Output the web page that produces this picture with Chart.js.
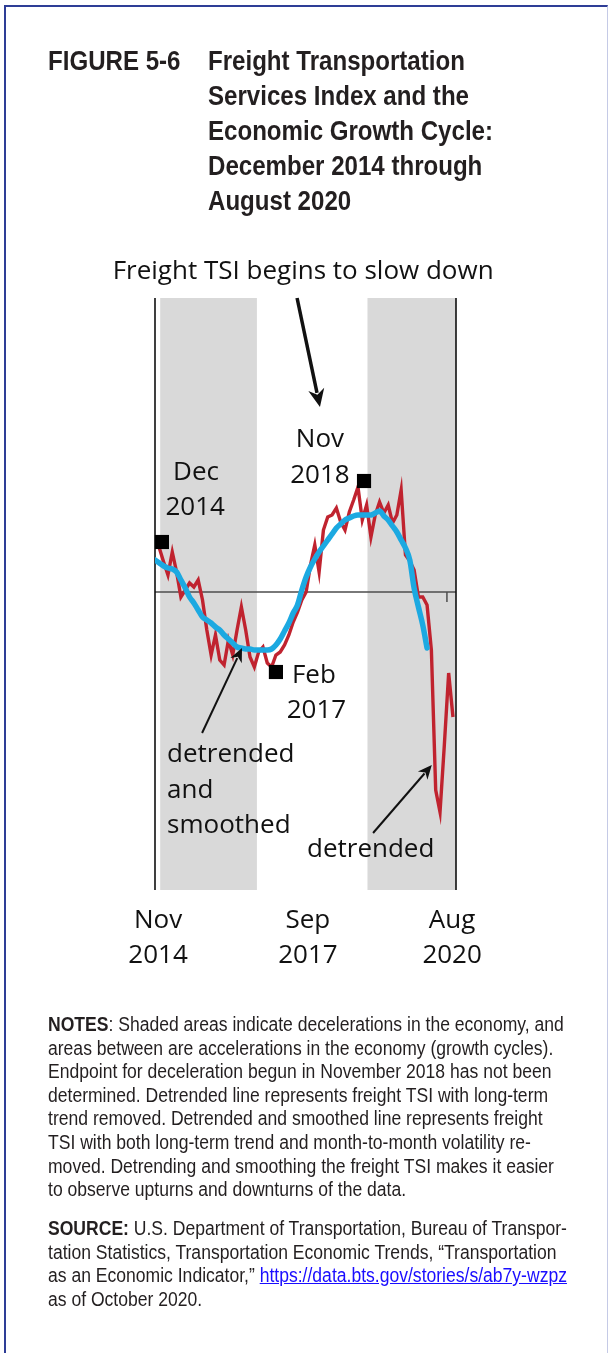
<!DOCTYPE html>
<html><head><meta charset="utf-8">
<script src="https://cdn.jsdelivr.net/npm/chart.js@4.4.1/dist/chart.umd.min.js"></script>
<style>
html,body{margin:0;padding:0;background:#fff;}
body{width:609px;height:1353px;position:relative;overflow:hidden;}
#frame{position:absolute;left:4px;top:5px;width:604px;height:1400px;border-left:2px solid #2e3d96;border-top:2px solid #2e3d96;border-right:1px solid #c5cae6;box-sizing:border-box;}
#chart{position:absolute;left:0;top:0;}
.t{position:absolute;font-family:"Liberation Sans",Arial,sans-serif;color:#231f20;white-space:nowrap;transform-origin:0 0;}
#fig{left:48px;top:43px;font-size:28px;line-height:35px;font-weight:bold;transform:scaleX(0.86);}
#ttl{left:208px;top:43px;font-size:28px;line-height:35px;font-weight:bold;transform:scaleX(0.86);}
#notes{left:48px;top:1013px;font-size:19.5px;line-height:23.6px;transform:scaleX(0.9);}
#source{left:48px;top:1217px;font-size:19.5px;line-height:23.6px;transform:scaleX(0.9);}
a{color:#1a0dff;}
</style></head>
<body>
<div id="frame"></div>
<canvas id="chart" width="609" height="1353"></canvas>
<div class="t" id="fig">FIGURE 5-6</div>
<div class="t" id="ttl">Freight Transportation<br>Services Index and the<br>Economic Growth Cycle:<br>December 2014 through<br>August 2020</div>
<div class="t" id="notes"><b>NOTES</b>: Shaded areas indicate decelerations in the economy, and<br>areas between are accelerations in the economy (growth cycles).<br>Endpoint for deceleration begun in November 2018 has not been<br>determined. Detrended line represents freight TSI with long-term<br>trend removed. Detrended and smoothed line represents freight<br>TSI with both long-term trend and month-to-month volatility re-<br>moved. Detrending and smoothing the freight TSI makes it easier<br>to observe upturns and downturns of the data.</div>
<div class="t" id="source"><b>SOURCE:</b> U.S. Department of Transportation, Bureau of Transpor-<br>tation Statistics, Transportation Economic Trends, “Transportation<br>as an Economic Indicator,” <a href="#">https://data.bts.gov/stories/s/ab7y-wzpz</a><br>as of October 2020.</div>
<script>
// Month index: 0 = Nov 2014 ... 69 = Aug 2020
const detrendedStart = 1; // Dec 2014
const detrended = [4.4,3.0,1.7,4.0,2.0,-0.5,0.2,0.9,0.5,1.2,-0.8,-3.8,-6.3,-4.3,-6.8,-7.3,-4.8,-6.3,-3.8,-1.5,
  -3.8,-6.5,-7.5,-6.0,-5.5,-7.1,-7.5,-6.3,-6.0,-5.3,-4.3,-3.0,-2.0,-0.8,0.0,2.7,4.7,2.0,6.2,7.5,
  7.7,8.4,7.0,6.2,8.0,9.2,10.5,7.2,8.7,5.5,7.7,9.0,7.9,8.7,6.9,7.7,10.2,3.7,3.1,2.2,
  -0.5,-0.5,-1.3,-5.8,-19.8,-22.0,-15.3,-8.1,-12.5];
const smoothedStart = 0; // Nov 2014
const smoothed = [3.2,2.9,2.6,2.4,2.3,2.0,1.2,0.4,-0.5,-1.1,-1.8,-2.5,-2.8,-3.1,-3.5,-3.8,-4.3,-4.7,-5.1,-5.5,
  -5.6,-5.7,-5.7,-5.8,-5.8,-5.8,-5.8,-5.7,-5.3,-4.7,-3.9,-3.1,-2.1,-1.3,0.2,1.5,2.5,3.3,4.0,4.6,
  5.2,5.8,6.4,6.8,7.2,7.4,7.6,7.7,7.7,7.7,7.7,7.9,8.1,7.6,7.2,6.6,6.0,5.2,4.4,3.2,
  0.4,-1.5,-3.3,-5.6];
const turningPointLabels = ["Dec 2014","Feb 2017","Nov 2018"];
const turningPointX = [1.6, 28.0, 48.4];
const turningPointY = [5.0, -8.0, 11.1];
const shadeStarts = [1.2, 49.2];
const shadeEnds = [23.6, 69.7];
const tickLabels = [["Nov","2014"],["Sep","2017"],["Aug","2020"]];
const tickPositions = [0.7, 35.4, 68.8];

const xMin = 0, xMax = 69.7, yMin = -29.8, yMax = 29.4;

const redPts = detrended.map((v,i)=>({x:detrendedStart+i, y:v}));
const bluePts = smoothed.map((v,i)=>({x:smoothedStart+i, y:v}));
const markerPts = turningPointX.map((x,i)=>({x:x, y:turningPointY[i]}));

const annoFont = '"Open Sans","Noto Sans",sans-serif';
// annotations in data coordinates
const texts = [
  {t:"Freight TSI begins to slow down", x:34.3, y:32.0, align:"center"},
  {t:"Dec", x:9.5, y:11.9, align:"center"},
  {t:"2014", x:9.3, y:8.4, align:"center"},
  {t:"Nov", x:38.2, y:15.2, align:"center"},
  {t:"2018", x:38.2, y:11.6, align:"center"},
  {t:"Feb", x:31.7, y:-8.4, align:"left"},
  {t:"2017", x:30.5, y:-11.9, align:"left"},
  {t:"detrended", x:2.8, y:-16.3, align:"left"},
  {t:"and", x:2.8, y:-19.9, align:"left"},
  {t:"smoothed", x:2.8, y:-23.4, align:"left"},
  {t:"detrended", x:35.2, y:-25.8, align:"left"}
];
const arrows = [
  {x1:32.9, y1:29.4, x2:38.2, y2:18.5, w:3.5, head:18},
  {x1:10.9, y1:-14.1, x2:20.15, y2:-5.6, w:2, head:14},
  {x1:50.5, y1:-24.1, x2:64.1, y2:-17.3, w:2, head:14}
];

const backdrop = {
  id:'backdrop',
  beforeDatasetsDraw(chart){
    const {ctx, chartArea:a, scales:{x,y}} = chart;
    ctx.save();
    ctx.fillStyle = '#d9d9d9';
    shadeStarts.forEach((s,i)=>{
      const x0 = x.getPixelForValue(s), x1 = x.getPixelForValue(shadeEnds[i]);
      ctx.fillRect(x0, a.top, x1-x0, a.bottom-a.top);
    });
    const y0 = y.getPixelForValue(0);
    ctx.strokeStyle = '#4d4d4d'; ctx.lineWidth = 1.5;
    ctx.beginPath(); ctx.moveTo(a.left, y0); ctx.lineTo(a.right, y0); ctx.stroke();
    const tx = x.getPixelForValue(67.6);
    ctx.beginPath(); ctx.moveTo(tx, y0); ctx.lineTo(tx, y0+10); ctx.stroke();
    ctx.strokeStyle = '#111'; ctx.lineWidth = 1.6;
    ctx.beginPath(); ctx.moveTo(a.left, a.top); ctx.lineTo(a.left, a.bottom);
    ctx.moveTo(a.right, a.top); ctx.lineTo(a.right, a.bottom); ctx.stroke();
    ctx.restore();
  },
  afterDatasetsDraw(chart){
    const {ctx, scales:{x,y}} = chart;
    ctx.save();
    ctx.fillStyle = '#111';
    ctx.font = '26px ' + annoFont;
    ctx.textBaseline = 'middle';
    texts.forEach(o=>{
      ctx.textAlign = o.align;
      ctx.fillText(o.t, x.getPixelForValue(o.x), y.getPixelForValue(o.y));
    });
    ctx.textAlign = 'center';
    tickLabels.forEach((lab,i)=>{
      const px = x.getPixelForValue(tickPositions[i]);
      ctx.fillText(lab[0], px, y.getPixelForValue(-32.9));
      ctx.fillText(lab[1], px, y.getPixelForValue(-36.4));
    });
    arrows.forEach(a=>{
      const X1=x.getPixelForValue(a.x1), Y1=y.getPixelForValue(a.y1);
      const X2=x.getPixelForValue(a.x2), Y2=y.getPixelForValue(a.y2);
      const ang = Math.atan2(Y2-Y1, X2-X1);
      const bx = X2 - a.head*0.8*Math.cos(ang), by = Y2 - a.head*0.8*Math.sin(ang);
      ctx.strokeStyle='#111'; ctx.lineWidth=a.w;
      ctx.beginPath(); ctx.moveTo(X1,Y1); ctx.lineTo(bx,by); ctx.stroke();
      const hw = a.head*0.45;
      ctx.beginPath();
      ctx.moveTo(X2,Y2);
      ctx.lineTo(X2 - a.head*Math.cos(ang) + hw*Math.sin(ang), Y2 - a.head*Math.sin(ang) - hw*Math.cos(ang));
      ctx.lineTo(X2 - a.head*0.7*Math.cos(ang), Y2 - a.head*0.7*Math.sin(ang));
      ctx.lineTo(X2 - a.head*Math.cos(ang) - hw*Math.sin(ang), Y2 - a.head*Math.sin(ang) + hw*Math.cos(ang));
      ctx.closePath(); ctx.fill();
    });
    ctx.restore();
  }
};

new Chart(document.getElementById('chart'), {
  type:'line',
  data:{datasets:[
    {label:'Turning points', data:markerPts, showLine:false, pointStyle:'rect', pointRadius:10, pointBackgroundColor:'#000', pointBorderWidth:0, clip:false},
    {label:'Detrended and smoothed', data:bluePts, borderColor:'#1ca9e1', borderWidth:5.5, pointRadius:0, cubicInterpolationMode:'monotone', borderCapStyle:'round', borderJoinStyle:'round', fill:false},
    {label:'Detrended', data:redPts, borderColor:'#c0232f', borderWidth:3.4, pointRadius:0, tension:0, borderJoinStyle:'miter', fill:false}
  ]},
  options:{
    responsive:false, animation:false, devicePixelRatio:1,
    layout:{padding:{left:155, right:153, top:298, bottom:463}},
    plugins:{legend:{display:false}, tooltip:{enabled:false}, title:{display:false}},
    scales:{
      x:{type:'linear', min:xMin, max:xMax, display:false},
      y:{type:'linear', min:yMin, max:yMax, display:false}
    }
  },
  plugins:[backdrop]
});
</script>
</body></html>
